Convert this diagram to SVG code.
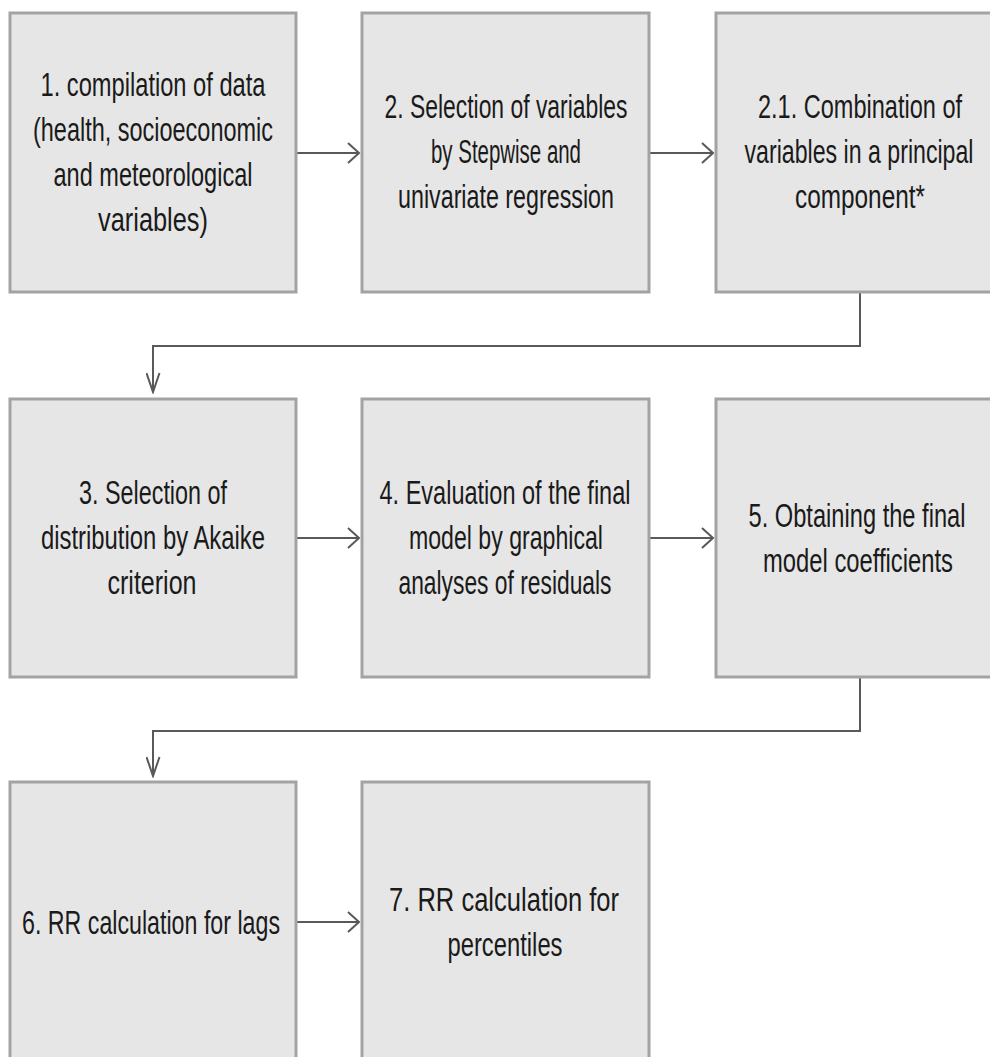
<svg xmlns="http://www.w3.org/2000/svg" width="990" height="1057" viewBox="0 0 990 1057">
<style>
.box{fill:#e6e6e6;stroke:#a3a3a3;stroke-width:3}
.t{font-family:"Liberation Sans",Arial,sans-serif;font-size:34px;fill:#1a1a1a;text-anchor:middle}
.c{fill:none;stroke:#595959;stroke-width:2}
</style>
<defs>
<marker id="arrR" markerUnits="userSpaceOnUse" markerWidth="20" markerHeight="26" refX="12" refY="11" orient="0" viewBox="0 0 20 26">
<path d="M1 1 L12 11 L1 21" fill="none" stroke="#595959" stroke-width="2"/>
</marker>
<marker id="arrD" markerUnits="userSpaceOnUse" markerWidth="16" markerHeight="22" refX="7.5" refY="20" orient="0" viewBox="0 0 16 22">
<path d="M1 1 L7.5 20 L14 1" fill="none" stroke="#595959" stroke-width="2"/>
</marker>
</defs>
<rect width="990" height="1057" fill="#ffffff"/>
<g id="connectors">
<line class="c" x1="297" y1="153" x2="359" y2="153" marker-end="url(#arrR)"/>
<line class="c" x1="650" y1="153" x2="713" y2="153" marker-end="url(#arrR)"/>
<polyline class="c" points="860,292 860,346 153,346 153,392" marker-end="url(#arrD)"/>
<line class="c" x1="297" y1="538" x2="359" y2="538" marker-end="url(#arrR)"/>
<line class="c" x1="650" y1="538" x2="713" y2="538" marker-end="url(#arrR)"/>
<polyline class="c" points="860,677 860,731 153,731 153,776" marker-end="url(#arrD)"/>
<line class="c" x1="297" y1="922" x2="359" y2="922" marker-end="url(#arrR)"/>
</g>
<g id="n1">
<rect class="box" x="10" y="13" width="286" height="279"/>
<text class="t" x="153" y="96" textLength="225" lengthAdjust="spacingAndGlyphs">1. compilation of data</text>
<text class="t" x="153" y="141" textLength="240" lengthAdjust="spacingAndGlyphs">(health, socioeconomic</text>
<text class="t" x="153" y="186" textLength="199" lengthAdjust="spacingAndGlyphs">and meteorological</text>
<text class="t" x="153" y="231" textLength="110" lengthAdjust="spacingAndGlyphs">variables)</text>
</g>
<g id="n2">
<rect class="box" x="362" y="13" width="287" height="279"/>
<text class="t" x="506" y="118" textLength="243" lengthAdjust="spacingAndGlyphs">2. Selection of variables</text>
<text class="t" x="506" y="163" textLength="150" lengthAdjust="spacingAndGlyphs">by Stepwise and</text>
<text class="t" x="506" y="208" textLength="216" lengthAdjust="spacingAndGlyphs">univariate regression</text>
</g>
<g id="n3">
<path class="box" d="M990 13 H716 V292 H990"/>
<text class="t" x="860" y="118" textLength="204" lengthAdjust="spacingAndGlyphs">2.1. Combination of</text>
<text class="t" x="859" y="163" textLength="229" lengthAdjust="spacingAndGlyphs">variables in a principal</text>
<text class="t" x="860" y="208" textLength="130" lengthAdjust="spacingAndGlyphs">component*</text>
</g>
<g id="n4">
<rect class="box" x="10" y="399" width="286" height="278"/>
<text class="t" x="153" y="504" textLength="148" lengthAdjust="spacingAndGlyphs">3. Selection of</text>
<text class="t" x="153" y="549" textLength="224" lengthAdjust="spacingAndGlyphs">distribution by Akaike</text>
<text class="t" x="152" y="594" textLength="89" lengthAdjust="spacingAndGlyphs">criterion</text>
</g>
<g id="n5">
<rect class="box" x="362" y="399" width="287" height="278"/>
<text class="t" x="505" y="504" textLength="251" lengthAdjust="spacingAndGlyphs">4. Evaluation of the final</text>
<text class="t" x="506" y="549" textLength="194" lengthAdjust="spacingAndGlyphs">model by graphical</text>
<text class="t" x="505" y="594" textLength="213" lengthAdjust="spacingAndGlyphs">analyses of residuals</text>
</g>
<g id="n6">
<path class="box" d="M990 399 H716 V677 H990"/>
<text class="t" x="857" y="527" textLength="217" lengthAdjust="spacingAndGlyphs">5. Obtaining the final</text>
<text class="t" x="858" y="572" textLength="190" lengthAdjust="spacingAndGlyphs">model coefficients</text>
</g>
<g id="n7">
<path class="box" d="M10 1057 V782 H296 V1057"/>
<text class="t" x="151" y="934" textLength="258" lengthAdjust="spacingAndGlyphs">6. RR calculation for lags</text>
</g>
<g id="n8">
<path class="box" d="M362 1057 V782 H649 V1057"/>
<text class="t" x="504" y="911" textLength="230" lengthAdjust="spacingAndGlyphs">7. RR calculation for</text>
<text class="t" x="505" y="956" textLength="115" lengthAdjust="spacingAndGlyphs">percentiles</text>
</g>
</svg>
